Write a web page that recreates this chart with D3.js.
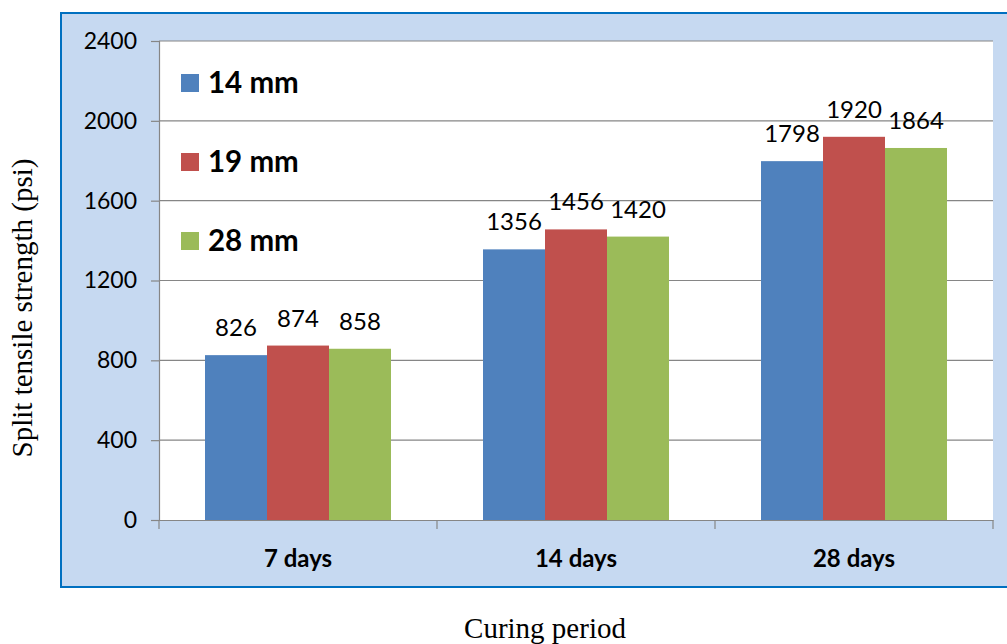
<!DOCTYPE html>
<html>
<head>
<meta charset="utf-8">
<script src="https://cdn.jsdelivr.net/npm/d3@7"></script>
<style>
  html, body { margin: 0; padding: 0; background: #ffffff; }
  svg { display: block; }
</style>
</head>
<body>
<svg id="chart" width="1007" height="644"></svg>
<script>
// ---- data ----
const categories = ["7 days", "14 days", "28 days"];
const seriesNames = ["14 mm", "19 mm", "28 mm"];
const values14 = [826, 1356, 1798];
const values19 = [874, 1456, 1920];
const values28 = [858, 1420, 1864];
const yTicks = [0, 400, 800, 1200, 1600, 2000, 2400];
const colors = ["#4f81bd", "#c0504d", "#9bbb59"];

const seriesValues = [values14, values19, values28];

const svg = d3.select("#chart");

// chart area (outer box)
svg.append("rect")
  .attr("x", 61).attr("y", 13)
  .attr("width", 1000).attr("height", 574)
  .attr("fill", "#c6d9f1")
  .attr("stroke", "#0070c0").attr("stroke-width", 2);

const plot = { left: 159, right: 993, top: 41, bottom: 520 };

// plot area
svg.append("rect")
  .attr("x", plot.left).attr("y", plot.top)
  .attr("width", plot.right - plot.left).attr("height", plot.bottom - plot.top)
  .attr("fill", "#ffffff");

const y = d3.scaleLinear().domain([0, 2400]).range([plot.bottom, plot.top]);
const x0 = d3.scaleBand().domain(categories).range([plot.left, plot.right]).padding(0);
const x1 = d3.scaleBand().domain(seriesNames).range([0, x0.bandwidth()])
  .paddingInner(0).paddingOuter(0.742);

// gridlines
svg.append("g").selectAll("line")
  .data(yTicks.filter(d => d > 0))
  .join("line")
  .attr("x1", plot.left).attr("x2", plot.right)
  .attr("y1", d => y(d)).attr("y2", d => y(d))
  .attr("stroke", "#868686").attr("stroke-width", 1.2);

// bars
const groups = svg.append("g").selectAll("g")
  .data(categories)
  .join("g")
  .attr("transform", d => `translate(${x0(d)},0)`);

groups.selectAll("rect")
  .data((c, ci) => seriesNames.map((s, si) => ({ s, si, v: seriesValues[si][ci] })))
  .join("rect")
  .attr("x", d => x1(d.s))
  .attr("y", d => y(d.v))
  .attr("width", x1.bandwidth())
  .attr("height", d => y(0) - y(d.v))
  .attr("fill", d => colors[d.si]);

groups.selectAll("text")
  .data((c, ci) => seriesNames.map((s, si) => ({ s, si, v: seriesValues[si][ci] })))
  .join("text")
  .attr("x", d => x1(d.s) + x1.bandwidth() / 2)
  .attr("y", d => y(d.v) - 19)
  .attr("text-anchor", "middle")
  .attr("font-family", "Lato, 'Open Sans', sans-serif")
  .attr("font-size", 24)
  .attr("fill", "#000")
  .text(d => d.v);

// y axis
const yAxis = d3.axisLeft(y).tickValues(yTicks).tickFormat(d3.format("d")).tickSize(8).tickPadding(14);
const gy = svg.append("g").attr("transform", `translate(${plot.left},0)`).call(yAxis);
gy.select(".domain").attr("stroke", "#868686").attr("stroke-width", 1.2);
gy.selectAll(".tick line").attr("stroke", "#868686").attr("stroke-width", 1.2);
gy.selectAll(".tick text")
  .attr("font-family", "Lato, 'Open Sans', sans-serif")
  .attr("font-size", 23)
  .attr("fill", "#000");

// x axis
const xAxis = d3.axisBottom(x0).tickSize(0).tickPadding(30);
const gx = svg.append("g").attr("transform", `translate(0,${plot.bottom})`).call(xAxis);
gx.select(".domain").attr("stroke", "#868686").attr("stroke-width", 1.2);
gx.selectAll(".tick text")
  .attr("font-family", "Lato, 'Open Sans', sans-serif")
  .attr("font-weight", "bold")
  .attr("font-size", 24)
  .attr("fill", "#000");
// category boundary tick marks
svg.append("g").selectAll("line")
  .data(categories.map(c => x0(c)).concat([x0(categories[categories.length - 1]) + x0.bandwidth()]))
  .join("line")
  .attr("x1", d => d).attr("x2", d => d)
  .attr("y1", plot.bottom).attr("y2", plot.bottom + 9)
  .attr("stroke", "#868686").attr("stroke-width", 1.2);

// legend
const legend = svg.append("g");
const legendRows = [83, 162, 241];
seriesNames.forEach((s, i) => {
  legend.append("rect")
    .attr("x", 181).attr("y", legendRows[i] - 9)
    .attr("width", 18).attr("height", 18)
    .attr("fill", colors[i]);
  legend.append("text")
    .attr("x", 208).attr("y", legendRows[i] + 10)
    .attr("font-family", "Lato, 'Open Sans', sans-serif")
    .attr("font-weight", "bold")
    .attr("font-size", 29.5)
    .attr("fill", "#000")
    .text(s);
});

// axis titles
svg.append("text")
  .attr("transform", "translate(32,308) rotate(-90)")
  .attr("text-anchor", "middle")
  .attr("font-family", "'Liberation Serif', 'Times New Roman', serif")
  .attr("font-size", 29)
  .attr("fill", "#000")
  .text("Split tensile strength (psi)");

svg.append("text")
  .attr("x", 545).attr("y", 638)
  .attr("text-anchor", "middle")
  .attr("font-family", "'Liberation Serif', 'Times New Roman', serif")
  .attr("font-size", 29)
  .attr("fill", "#000")
  .text("Curing period");
</script>
</body>
</html>
